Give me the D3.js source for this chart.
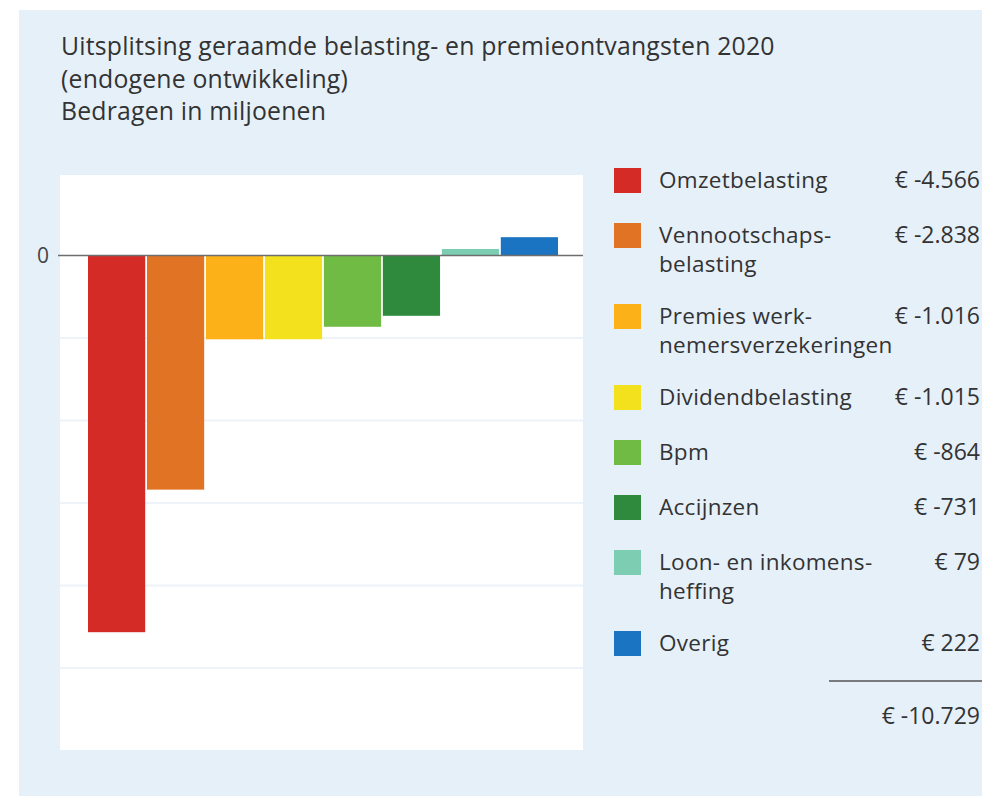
<!DOCTYPE html>
<html>
<head>
<meta charset="utf-8">
<script src="https://cdn.jsdelivr.net/npm/d3@7"></script>
<style>
  html, body { margin: 0; padding: 0; background: #ffffff; }
  svg { display: block; }
  text { font-family: "Open Sans", "Noto Sans", sans-serif; }
</style>
</head>
<body>
<svg id="chart" width="982" height="796"></svg>
<script>
const titleLines = ["Uitsplitsing geraamde belasting- en premieontvangsten 2020", "(endogene ontwikkeling)", "Bedragen in miljoenen"];
const categories = ["Omzetbelasting", "Vennootschapsbelasting", "Premies werknemersverzekeringen", "Dividendbelasting", "Bpm", "Accijnzen", "Loon- en inkomensheffing", "Overig"];
const legendLabels = [["Omzetbelasting"], ["Vennootschaps-", "belasting"], ["Premies werk-", "nemersverzekeringen"], ["Dividendbelasting"], ["Bpm"], ["Accijnzen"], ["Loon- en inkomens-", "heffing"], ["Overig"]];
const values = [-4566, -2838, -1016, -1015, -864, -731, 79, 222];
const colors = ["#d42b27", "#e07424", "#fbb117", "#f2e11c", "#70bb44", "#2f8a3e", "#7dcdb3", "#1b74c1"];
const gridTicks = [0, -1000, -2000, -3000, -4000, -5000];
const zeroTickLabel = ["0"];

const svg = d3.select("#chart");
const nl = d3.formatLocale({decimal: ",", thousands: ".", grouping: [3], currency: ["€ ", ""]});
const fmt = nl.format(",d");
const euro = v => "€ " + fmt(v).replace("−", "-");

// background panel
svg.append("rect").attr("x", 19).attr("y", 10).attr("width", 963).attr("height", 786).attr("fill", "#e6f0f9");

// title (one text element, three lines)
const title = svg.append("text").attr("x", 61).attr("y", 55)
  .attr("font-size", 24.8).attr("letter-spacing", "0.2px").attr("fill", "#333");
title.selectAll("tspan").data(titleLines).join("tspan")
  .attr("x", 61).attr("dy", (d, i) => i === 0 ? 0 : 32.5).text(d => d);

// plot area
const plot = {left: 60, right: 583, top: 175, bottom: 750};
svg.append("rect").attr("x", plot.left).attr("y", plot.top)
  .attr("width", plot.right - plot.left).attr("height", plot.bottom - plot.top).attr("fill", "#ffffff");

const y = d3.scaleLinear().domain([0, -1000]).range([255.5, 338]);
const x = d3.scaleBand().domain(categories).range([88, 558]).paddingInner(0.03).paddingOuter(0);

// grid
svg.append("g").selectAll("line").data(gridTicks.filter(d => d !== 0)).join("line")
  .attr("x1", plot.left).attr("x2", plot.right)
  .attr("y1", d => y(d)).attr("y2", d => y(d))
  .attr("stroke", "#edf3f9").attr("stroke-width", 2);

// bars
svg.append("g").selectAll("rect").data(values).join("rect")
  .attr("x", (d, i) => x(categories[i]))
  .attr("width", x.bandwidth())
  .attr("y", d => Math.min(y(d), y(0)))
  .attr("height", d => Math.abs(y(d) - y(0)))
  .attr("fill", (d, i) => colors[i]);

// zero line + axis label
const yAxis = d3.axisLeft(y).tickValues([0]).tickFormat(() => zeroTickLabel[0]).tickSize(0).tickPadding(0);
const ax = svg.append("g").attr("transform", "translate(49,0)").call(yAxis);
ax.select(".domain").remove();
ax.selectAll("text").attr("font-size", 21).attr("fill", "#444").attr("font-family", "Open Sans, sans-serif");
svg.append("line").attr("x1", 58).attr("x2", plot.right).attr("y1", y(0)).attr("y2", y(0))
  .attr("stroke", "#6e6e6e").attr("stroke-width", 1.6);

// legend
let ly = 180;
const rows = legendLabels.map((lines, i) => {
  const r = {lines, i, y: ly};
  ly += 55 + 26 * (lines.length - 1);
  return r;
});
const lg = svg.append("g");
const row = lg.selectAll("g").data(rows).join("g").attr("transform", d => `translate(0,${d.y})`);
row.append("rect").attr("x", 614).attr("y", -12).attr("width", 27).attr("height", 25)
  .attr("fill", d => colors[d.i]);
const lbl = row.append("text").attr("x", 659).attr("y", 0)
  .attr("font-size", 22.5).attr("letter-spacing", "0.3px").attr("fill", "#333");
lbl.selectAll("tspan").data(d => d.lines).join("tspan")
  .attr("x", 659).attr("dy", (d, j) => j === 0 ? "0.35em" : 29.5).text(d => d);
row.append("text").attr("x", 980).attr("y", 0).attr("dy", "0.35em").attr("text-anchor", "end")
  .attr("font-size", 23).attr("fill", "#333").text(d => euro(values[d.i]));

// total
const total = d3.sum(values);
svg.append("line").attr("x1", 829).attr("x2", 982).attr("y1", 681).attr("y2", 681)
  .attr("stroke", "#555").attr("stroke-width", 1.5);
svg.append("text").attr("x", 980).attr("y", 716).attr("dy", "0.35em").attr("text-anchor", "end")
  .attr("font-size", 23).attr("fill", "#333").text(euro(total));
</script>
</body>
</html>
